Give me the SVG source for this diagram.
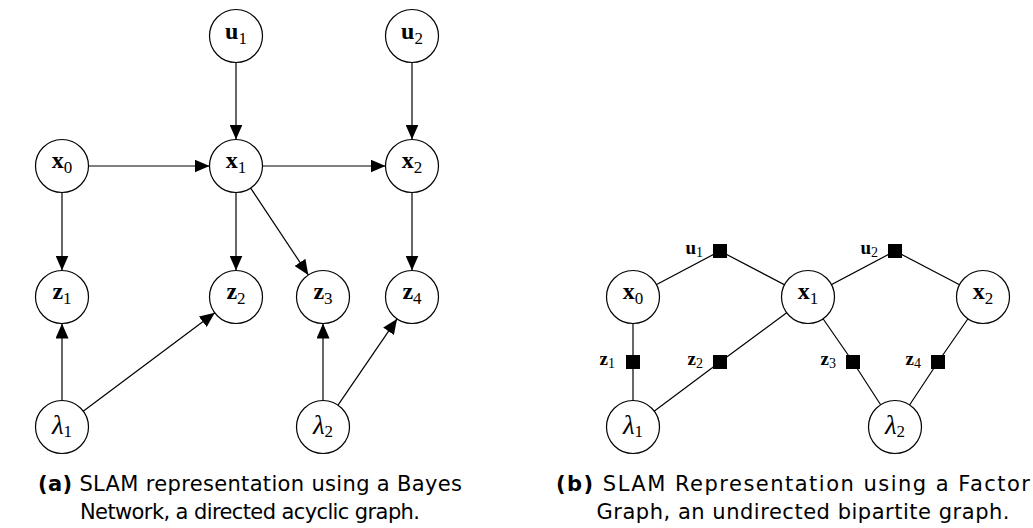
<svg xmlns="http://www.w3.org/2000/svg" width="1033" height="528" viewBox="0 0 1033 528">
<style>
.n{fill:#fff;stroke:#000;stroke-width:1.2}
.e{stroke:#000;stroke-width:1.2;fill:none}
.m{font-family:"Liberation Serif","DejaVu Serif",serif;font-size:24px;font-weight:bold;text-anchor:middle}
.s{font-family:"Liberation Serif","DejaVu Serif",serif;font-size:17px;font-weight:normal}
.g{font-family:"Liberation Serif","DejaVu Serif",serif;font-size:27px;font-style:italic;text-anchor:middle}
.fl{font-family:"Liberation Serif","DejaVu Serif",serif;font-size:19px;font-weight:bold;text-anchor:end}
.fs{font-family:"Liberation Serif","DejaVu Serif",serif;font-size:14px;font-weight:normal}
.f{fill:#000}
.c{font-family:"DejaVu Sans","Liberation Sans",sans-serif;font-size:21px;text-anchor:middle}
</style>
<defs>
<marker id="ah" markerWidth="16" markerHeight="13" refX="15" refY="6.5" orient="auto" markerUnits="userSpaceOnUse">
<path d="M0,0 L15,6.5 L0,13 Z" fill="#000"/>
</marker>
</defs>
<g id="connectors-a">
<line class="e" x1="236" y1="62.5" x2="236" y2="139.5" marker-end="url(#ah)"/>
<line class="e" x1="412" y1="62.5" x2="412" y2="139.5" marker-end="url(#ah)"/>
<line class="e" x1="88.5" y1="166" x2="209.5" y2="166" marker-end="url(#ah)"/>
<line class="e" x1="262.5" y1="166" x2="385.5" y2="166" marker-end="url(#ah)"/>
<line class="e" x1="62" y1="192.5" x2="62" y2="270.5" marker-end="url(#ah)"/>
<line class="e" x1="236" y1="192.5" x2="236" y2="270.5" marker-end="url(#ah)"/>
<line class="e" x1="250.7" y1="188.1" x2="308.3" y2="274.9" marker-end="url(#ah)"/>
<line class="e" x1="412" y1="192.5" x2="412" y2="270.5" marker-end="url(#ah)"/>
<line class="e" x1="62" y1="400.5" x2="62" y2="323.5" marker-end="url(#ah)"/>
<line class="e" x1="83.2" y1="411.2" x2="214.8" y2="312.8" marker-end="url(#ah)"/>
<line class="e" x1="323" y1="400.5" x2="323" y2="323.5" marker-end="url(#ah)"/>
<line class="e" x1="338" y1="405.1" x2="397" y2="318.9" marker-end="url(#ah)"/>
</g>
<g id="a-u1"><circle class="n" cx="236" cy="36" r="26.5"/><text class="m" x="236" y="39">u<tspan class="s" dy="5">1</tspan></text></g>
<g id="a-u2"><circle class="n" cx="412" cy="36" r="26.5"/><text class="m" x="412" y="39">u<tspan class="s" dy="5">2</tspan></text></g>
<g id="a-x0"><circle class="n" cx="62" cy="166" r="26.5"/><text class="m" x="62" y="168">x<tspan class="s" dy="5">0</tspan></text></g>
<g id="a-x1"><circle class="n" cx="236" cy="166" r="26.5"/><text class="m" x="236" y="168">x<tspan class="s" dy="5">1</tspan></text></g>
<g id="a-x2"><circle class="n" cx="412" cy="166" r="26.5"/><text class="m" x="412" y="168">x<tspan class="s" dy="5">2</tspan></text></g>
<g id="a-z1"><circle class="n" cx="62" cy="297" r="26.5"/><text class="m" x="62" y="299">z<tspan class="s" dy="5">1</tspan></text></g>
<g id="a-z2"><circle class="n" cx="236" cy="297" r="26.5"/><text class="m" x="236" y="299">z<tspan class="s" dy="5">2</tspan></text></g>
<g id="a-z3"><circle class="n" cx="323" cy="297" r="26.5"/><text class="m" x="323" y="299">z<tspan class="s" dy="5">3</tspan></text></g>
<g id="a-z4"><circle class="n" cx="412" cy="297" r="26.5"/><text class="m" x="412" y="299">z<tspan class="s" dy="5">4</tspan></text></g>
<g id="a-l1"><circle class="n" cx="62" cy="427" r="26.5"/><text class="g" x="62" y="434">λ<tspan class="s" font-style="normal" dy="3">1</tspan></text></g>
<g id="a-l2"><circle class="n" cx="323" cy="427" r="26.5"/><text class="g" x="323" y="434">λ<tspan class="s" font-style="normal" dy="3">2</tspan></text></g>

<g id="connectors-b">
<polyline class="e" points="633,297 720,251 808,297 895,251 983,297"/>
<polyline class="e" points="633,297 633,427"/>
<polyline class="e" points="808,297 720,362 633,427"/>
<polyline class="e" points="808,297 853,362 895,427"/>
<polyline class="e" points="983,297 938,362 895,427"/>
</g>
<g id="b-x0"><circle class="n" cx="633" cy="297" r="26.5"/><text class="m" x="633" y="299">x<tspan class="s" dy="5">0</tspan></text></g>
<g id="b-x1"><circle class="n" cx="808" cy="297" r="26.5"/><text class="m" x="808" y="299">x<tspan class="s" dy="5">1</tspan></text></g>
<g id="b-x2"><circle class="n" cx="983" cy="297" r="26.5"/><text class="m" x="983" y="299">x<tspan class="s" dy="5">2</tspan></text></g>
<g id="b-l1"><circle class="n" cx="633" cy="427" r="26.5"/><text class="g" x="633" y="434">λ<tspan class="s" font-style="normal" dy="3">1</tspan></text></g>
<g id="b-l2"><circle class="n" cx="895" cy="427" r="26.5"/><text class="g" x="895" y="434">λ<tspan class="s" font-style="normal" dy="3">2</tspan></text></g>
<g id="b-fu1"><rect class="f" x="713" y="244" width="14" height="14"/><text class="fl" x="703" y="254">u<tspan class="fs" dy="3">1</tspan></text></g>
<g id="b-fu2"><rect class="f" x="888" y="244" width="14" height="14"/><text class="fl" x="878" y="254">u<tspan class="fs" dy="3">2</tspan></text></g>
<g id="b-fz1"><rect class="f" x="626" y="355" width="14" height="14"/><text class="fl" x="615" y="365">z<tspan class="fs" dy="3">1</tspan></text></g>
<g id="b-fz2"><rect class="f" x="713" y="355" width="14" height="14"/><text class="fl" x="703" y="365">z<tspan class="fs" dy="3">2</tspan></text></g>
<g id="b-fz3"><rect class="f" x="846" y="355" width="14" height="14"/><text class="fl" x="836" y="365">z<tspan class="fs" dy="3">3</tspan></text></g>
<g id="b-fz4"><rect class="f" x="931" y="355" width="14" height="14"/><text class="fl" x="921" y="365">z<tspan class="fs" dy="3">4</tspan></text></g>

<g id="caption-a">
<text class="c" x="250" y="491" textLength="424" lengthAdjust="spacing"><tspan font-weight="bold">(a)</tspan> SLAM representation using a Bayes</text>
<text class="c" x="250" y="519" textLength="340" lengthAdjust="spacing">Network, a directed acyclic graph.</text>
</g>
<g id="caption-b">
<text class="c" x="793" y="491" textLength="474" lengthAdjust="spacing"><tspan font-weight="bold">(b)</tspan> SLAM Representation using a Factor</text>
<text class="c" x="803" y="519" textLength="413" lengthAdjust="spacing">Graph, an undirected bipartite graph.</text>
</g>
</svg>
